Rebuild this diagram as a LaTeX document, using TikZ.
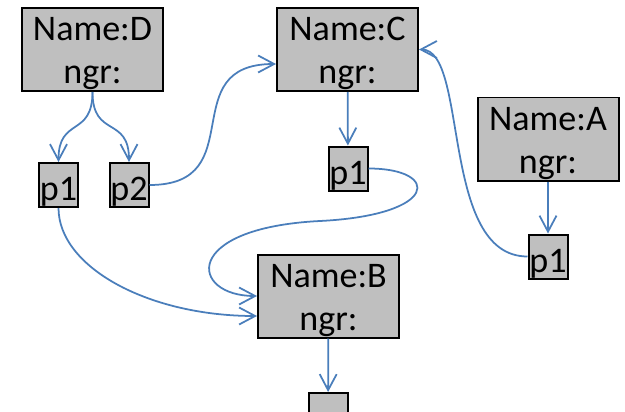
\documentclass[tikz,border=0pt]{standalone}
\usepackage{fontspec}
\setmainfont{Carlito}
\usetikzlibrary{arrows.meta,calc}
\definecolor{linkblue}{HTML}{4A7EBB}
\definecolor{boxgray}{HTML}{BFBFBF}
\newcommand{\objtext}[1]{\rule{0pt}{18pt}Name:#1\\ngr:}

\begin{document}
\begin{tikzpicture}[font=\fontsize{20.5}{24.5}\selectfont,
    obj/.style={draw, line width=0.04cm, fill=boxgray, inner sep=0pt,
      minimum width=2.82cm, minimum height=1.66cm, align=center},
    ptr/.style={draw, line width=0.04cm, fill=boxgray, inner sep=0pt,
      minimum width=0.78cm, minimum height=0.88cm, text height=18pt, text depth=0pt},
    link/.style={draw=linkblue, line width=1pt,
      -{Straight Barb[length=0.32cm,width=0.34cm]}}]
    \useasboundingbox (0,0) rectangle (12.5,8.22);
    \clip (0,0) rectangle (12.5,8.22);
    % ---- objects and their pointer fields
    \node[obj] (D)   at (1.85, 7.23) {\objtext{D}};
    \node[obj] (C)   at (6.95, 7.23) {\objtext{C}};
    \node[obj] (A)   at (10.96,5.44) {\objtext{A}};
    \node[obj] (B)   at (6.57, 2.30) {\objtext{B}};
    \node[ptr] (Dp1) at (1.17, 4.52) {p1};
    \node[ptr] (Dp2) at (2.58, 4.52) {p2};
    \node[ptr] (Cp1) at (6.96, 4.85) {p1};
    \node[ptr] (Ap1) at (10.96,3.09) {p1};
    \node[ptr] (Bp)  at (6.56,-0.08) {};
    % ---- object to field
    \foreach \v in {Dp1,Dp2}
      { \draw[link] (D.south) to[out=-90,in=90,looseness=1.5] (\v.north); }
    \foreach \u/\v in {C/Cp1,A/Ap1,B/Bp}
      { \draw[link] (\u) -- (\v); }
    % ---- field to object
    \draw[link] (Dp2.east) to[out=0,in=180,looseness=1.5] ([yshift=-0.29cm]C.west);
    \draw[link] (Dp1.south) .. controls +(0,-1.18) and +(-2.18,0) .. ([yshift=-0.4cm]B.west);
    \draw[link] (Cp1.east) .. controls +(1.44,0) and +(2.4,0.12) .. (6.4,3.8)
      .. controls +(-2.8,-0.14) and +(-1.34,0) .. (B.west);
    \draw[link] (Ap1.west) .. controls +(-1.76,0) and +(1.0,0) .. (C.east);
  \end{tikzpicture}
\end{document}
